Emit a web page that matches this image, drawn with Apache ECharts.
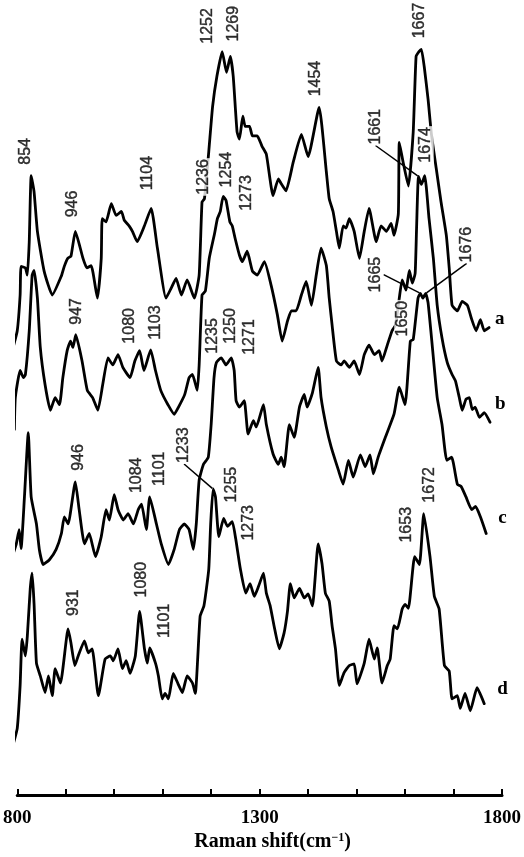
<!DOCTYPE html>
<html>
<head>
<meta charset="utf-8">
<title>Raman spectra a–d</title>
<style>
  html, body { margin: 0; padding: 0; background: #fff; }
  #chart { width: 524px; height: 857px; }
</style>
<script src="https://cdn.jsdelivr.net/npm/echarts@6/dist/echarts.min.js"></script>
</head>
<body>
<div id="chart"></div>
<script>
// Scale bar: labelled ticks and tick spacing (cm-1)
const shiftTicks = [800, 1300, 1800];
const tickStep = 100;

// Spectra: [Raman shift (cm-1), intensity (a.u., traces stacked)]
const spectrumA = [[815, 56.0], [825, 58.4], [831, 62.9], [833, 66.5], [842, 66.3], [846, 65.4], [850, 69.6], [854, 77.9], [860, 75.9], [867, 70.9], [881, 65.9], [898, 62.9], [917, 65.3], [923, 66.5], [930, 67.5], [937, 67.8], [946, 70.9], [962, 67.5], [970, 66.3], [979, 66.6], [992, 62.5], [1000, 67.5], [1002, 72.5], [1010, 72.1], [1021, 74.4], [1031, 72.9], [1042, 73.4], [1048, 72.3], [1058, 71.6], [1065, 70.9], [1075, 69.6], [1090, 71.6], [1104, 73.8], [1117, 68.8], [1135, 62.5], [1146, 63.8], [1156, 65.0], [1167, 62.9], [1179, 64.8], [1194, 62.5], [1204, 65.4], [1210, 74.6], [1215, 75.0], [1224, 80.9], [1232, 86.6], [1241, 90.4], [1252, 93.5], [1261, 90.9], [1269, 92.9], [1275, 90.4], [1283, 83.4], [1288, 82.5], [1295, 85.4], [1300, 84.1], [1309, 84.1], [1315, 82.9], [1325, 82.9], [1335, 81.6], [1344, 80.6], [1358, 75.4], [1369, 77.5], [1375, 76.9], [1385, 76.0], [1400, 79.6], [1417, 83.1], [1431, 80.3], [1454, 86.5], [1469, 78.4], [1475, 75.0], [1483, 73.4], [1490, 70.9], [1496, 68.8], [1504, 71.6], [1510, 71.3], [1517, 72.5], [1527, 70.9], [1538, 67.5], [1548, 70.9], [1558, 73.8], [1573, 69.6], [1583, 71.6], [1594, 70.9], [1604, 71.9], [1610, 70.4], [1619, 73.1], [1621, 82.1], [1629, 79.6], [1640, 76.6], [1650, 83.4], [1656, 92.9], [1662, 93.5], [1667, 93.8], [1673, 91.6], [1681, 87.5], [1688, 83.1], [1698, 78.8], [1708, 74.6], [1719, 70.4], [1725, 66.3], [1731, 61.6], [1742, 60.9], [1752, 62.1], [1763, 61.6], [1771, 60.0], [1781, 58.4], [1790, 59.8], [1798, 58.4], [1808, 58.8]];

const spectrumB = [[819, 46.0], [821, 50.0], [831, 53.4], [838, 52.5], [842, 52.9], [850, 58.4], [856, 65.4], [860, 66.0], [867, 62.5], [873, 56.3], [883, 51.6], [894, 48.4], [904, 50.0], [913, 49.1], [920, 52.5], [929, 55.9], [936, 57.1], [941, 56.3], [947, 57.9], [960, 54.6], [971, 50.9], [982, 50.0], [993, 48.4], [1003, 51.6], [1014, 55.0], [1024, 54.1], [1035, 55.4], [1045, 53.8], [1060, 52.5], [1070, 54.6], [1080, 55.9], [1089, 53.4], [1103, 56.0], [1113, 53.4], [1124, 50.9], [1139, 49.1], [1152, 47.9], [1161, 48.8], [1174, 50.4], [1183, 52.5], [1190, 52.9], [1200, 50.9], [1204, 54.1], [1210, 62.9], [1217, 63.4], [1225, 67.5], [1236, 70.6], [1242, 72.5], [1248, 73.4], [1254, 75.3], [1260, 74.8], [1268, 72.1], [1273, 71.6], [1279, 70.0], [1288, 67.9], [1294, 67.1], [1304, 68.4], [1315, 65.9], [1325, 65.4], [1340, 67.1], [1354, 64.1], [1367, 60.4], [1377, 57.1], [1388, 59.6], [1396, 60.9], [1406, 60.9], [1417, 62.9], [1427, 64.6], [1438, 61.6], [1448, 65.4], [1458, 68.8], [1469, 66.6], [1475, 62.5], [1481, 59.1], [1490, 54.6], [1500, 54.1], [1506, 54.6], [1517, 53.8], [1527, 54.6], [1538, 52.9], [1548, 55.4], [1558, 56.6], [1569, 55.4], [1579, 55.9], [1585, 54.6], [1596, 56.6], [1606, 58.4], [1613, 59.1], [1621, 62.5], [1627, 64.8], [1635, 63.5], [1642, 66.0], [1648, 64.4], [1654, 65.6], [1657, 71.3], [1661, 77.8], [1667, 76.8], [1674, 77.9], [1683, 72.5], [1692, 67.5], [1700, 61.6], [1710, 57.5], [1721, 54.4], [1731, 52.9], [1738, 52.1], [1746, 50.0], [1752, 48.4], [1760, 49.8], [1767, 50.0], [1773, 48.5], [1779, 48.8], [1788, 47.5], [1798, 48.1], [1810, 46.9]];

const spectrumC = [[810, 27.5], [815, 30.0], [823, 31.6], [829, 33.4], [833, 31.0], [840, 37.5], [848, 45.6], [854, 37.5], [865, 34.1], [871, 30.9], [879, 29.0], [892, 29.6], [906, 30.9], [917, 32.9], [923, 35.0], [931, 34.1], [946, 39.4], [954, 35.9], [965, 31.6], [975, 32.9], [988, 30.0], [1000, 32.5], [1010, 35.9], [1017, 34.6], [1027, 37.8], [1035, 35.9], [1046, 34.6], [1056, 35.4], [1067, 34.1], [1077, 35.9], [1084, 36.6], [1094, 33.4], [1101, 37.5], [1115, 34.1], [1125, 31.6], [1140, 29.0], [1152, 30.9], [1163, 33.4], [1173, 34.1], [1183, 33.4], [1192, 30.9], [1198, 34.1], [1204, 39.6], [1213, 41.6], [1223, 42.5], [1229, 46.6], [1235, 52.5], [1240, 54.4], [1250, 55.0], [1260, 54.1], [1271, 55.0], [1277, 53.4], [1281, 49.6], [1288, 48.8], [1298, 49.6], [1306, 45.4], [1317, 47.1], [1323, 46.3], [1338, 49.1], [1344, 46.6], [1358, 42.9], [1369, 41.6], [1375, 42.5], [1381, 41.3], [1392, 46.6], [1402, 45.0], [1413, 48.8], [1423, 50.4], [1429, 48.8], [1440, 50.6], [1452, 53.8], [1458, 50.0], [1469, 46.3], [1479, 43.8], [1494, 40.9], [1504, 39.1], [1515, 42.1], [1525, 40.0], [1540, 42.8], [1550, 41.3], [1560, 42.8], [1567, 40.4], [1577, 42.5], [1592, 45.0], [1610, 47.9], [1621, 51.3], [1633, 49.1], [1644, 57.1], [1650, 57.3], [1660, 62.5], [1665, 63.1], [1670, 62.5], [1676, 63.1], [1681, 61.9], [1690, 56.3], [1700, 50.0], [1710, 46.6], [1720, 42.1], [1730, 42.5], [1742, 39.1], [1750, 38.8], [1760, 37.5], [1772, 35.9], [1780, 36.3], [1790, 35.0], [1802, 32.9]];

const spectrumD = [[817, 6.5], [825, 8.4], [831, 13.8], [835, 19.6], [842, 17.5], [846, 20.0], [852, 25.9], [856, 27.9], [860, 24.1], [865, 16.6], [873, 15.0], [883, 12.9], [890, 15.0], [898, 12.5], [904, 15.9], [915, 14.1], [931, 20.9], [937, 19.1], [945, 16.3], [952, 17.5], [965, 19.4], [973, 17.9], [981, 18.4], [994, 12.5], [1008, 17.1], [1019, 17.5], [1025, 16.9], [1035, 18.4], [1044, 15.9], [1052, 16.9], [1060, 15.3], [1071, 17.5], [1080, 23.1], [1090, 18.4], [1096, 16.6], [1101, 18.5], [1113, 16.6], [1119, 15.0], [1127, 12.1], [1133, 12.8], [1140, 12.1], [1150, 15.3], [1160, 14.0], [1169, 12.9], [1179, 15.0], [1190, 14.1], [1196, 12.8], [1206, 22.5], [1214, 23.8], [1224, 28.4], [1228, 34.1], [1233, 38.5], [1238, 37.5], [1245, 32.5], [1255, 34.8], [1263, 33.8], [1273, 34.4], [1280, 32.3], [1290, 28.4], [1301, 25.4], [1310, 26.6], [1319, 25.0], [1328, 26.3], [1338, 27.9], [1344, 25.4], [1352, 23.8], [1360, 21.3], [1371, 18.4], [1381, 20.4], [1388, 23.1], [1394, 26.6], [1402, 24.8], [1413, 26.0], [1423, 24.8], [1431, 25.3], [1440, 23.8], [1452, 31.6], [1460, 29.1], [1467, 25.4], [1475, 24.4], [1481, 21.3], [1488, 18.4], [1496, 13.8], [1506, 15.4], [1517, 16.3], [1527, 16.5], [1533, 14.0], [1548, 16.6], [1558, 19.6], [1569, 17.1], [1575, 18.5], [1585, 14.1], [1596, 16.3], [1602, 17.1], [1610, 21.3], [1617, 20.9], [1627, 23.4], [1633, 24.0], [1640, 23.5], [1653, 30.0], [1663, 29.0], [1672, 35.4], [1685, 30.0], [1694, 25.0], [1704, 23.4], [1715, 16.3], [1725, 15.6], [1731, 12.1], [1742, 12.5], [1748, 10.9], [1758, 12.8], [1769, 10.6], [1783, 13.5], [1798, 11.5]];

// Annotated band positions (cm-1) for each trace
const peaksA = [854, 946, 1104, 1252, 1269, 1454, 1667];
const peaksB = [947, 1080, 1103, 1236, 1254, 1273, 1661, 1674];
const peaksC = [946, 1084, 1101, 1235, 1250, 1271, 1650, 1665, 1676];
const peaksD = [931, 1080, 1101, 1233, 1255, 1273, 1653, 1672];

// Bands whose labels sit away from the peak and need a guide line
const leaderBands = { a: [], b: [1661], c: [1665, 1676], d: [1233] };

// Screen-space label nudges in pixels [right, down], so crowded labels do not collide
const labelNudge = {
  a: { 854: [-6, -1], 946: [-3, -4], 1104: [-4, -8], 1252: [-15, 2], 1269: [3, -5], 1454: [-4, -1], 1667: [-2, -1] },
  b: { 947: [1, 0], 1080: [-10, 3], 1103: [5, 0], 1236: [-11, -29], 1254: [3, 1], 1273: [14, -5], 1661: [-43, -22], 1674: [1, -3] },
  c: { 946: [3, -1], 1084: [-5, -1], 1101: [10, -1], 1235: [-1, -14], 1250: [9, -4], 1271: [18, 7], 1650: [-11, 7], 1665: [-45, 9], 1676: [41, -21] },
  d: { 931: [5, -3], 1080: [2, -4], 1101: [15, 0], 1233: [-29, -16], 1255: [8, -6], 1273: [16, 29], 1653: [-8, -4], 1672: [6, -1] }
};

const traces = [
  { name: 'a', data: spectrumA, peaks: peaksA, endOffset: [-2, -8] },
  { name: 'b', data: spectrumB, peaks: peaksB, endOffset: [-3, -18] },
  { name: 'c', data: spectrumC, peaks: peaksC, endOffset: [4, -15] },
  { name: 'd', data: spectrumD, peaks: peaksD, endOffset: [5, -15] }
];

function intensityAt(data, shift) {
  const p = data.find(d => d[0] === shift);
  return p ? p[1] : null;
}

const series = [];
traces.forEach(t => {
  series.push({
    type: 'line',
    name: t.name,
    xAxisIndex: 1,
    yAxisIndex: 0,
    data: t.data,
    showSymbol: false,
    clip: false,
    smooth: 0.15,
    lineStyle: { color: '#000', width: 2.8, join: 'round', cap: 'round' },
    endLabel: {
      show: true,
      formatter: t.name,
      offset: t.endOffset,
      color: '#000',
      fontFamily: 'Liberation Serif',
      fontSize: 19,
      fontWeight: 'bold'
    },
    z: 2
  });
  series.push({
    type: 'scatter',
    xAxisIndex: 1,
    yAxisIndex: 0,
    silent: true,
    symbolSize: 2,
    itemStyle: { color: 'rgba(0,0,0,0)' },
    z: 5,
    data: t.peaks.map(v => ({
      value: [v, intensityAt(t.data, v)],
      name: String(v),
      labelLine: { show: leaderBands[t.name].includes(v) }
    })),
    label: {
      show: true,
      formatter: '{b}',
      position: 'top',
      distance: 8,
      rotate: 90,
      align: 'left',
      verticalAlign: 'middle',
      fontFamily: 'Liberation Sans',
      fontSize: 16,
      color: '#000',
      textBorderColor: '#000',
      textBorderWidth: 0.4,
      backgroundColor: '#fff',
      padding: [0, 1]
    },
    labelLine: { show: false, length2: 0, lineStyle: { color: '#000', width: 1.5 } },
    // the label offset is applied in the label's rotated frame
    labelLayout: p => {
      const n = labelNudge[t.name][t.peaks[p.dataIndex]] || [0, 0];
      return { dx: -n[1], dy: n[0] };
    }
  });
});

const chart = echarts.init(document.getElementById('chart'), null, { renderer: 'canvas' });
chart.setOption({
  animation: false,
  backgroundColor: '#fff',
  grid: { left: 17, right: 22, top: 0, height: 800, containLabel: false },
  xAxis: [
    {
      // printed scale bar
      type: 'value',
      position: 'bottom',
      min: shiftTicks[0],
      max: shiftTicks[shiftTicks.length - 1],
      interval: tickStep,
      axisLine: { show: true, onZero: false, lineStyle: { color: '#000', width: 3 } },
      axisTick: { show: true, inside: true, length: 6, lineStyle: { color: '#000', width: 2 } },
      splitLine: { show: false },
      axisLabel: {
        margin: 13,
        formatter: v => (shiftTicks.includes(v) ? String(v) : ''),
        fontFamily: 'Liberation Serif', fontSize: 19, fontWeight: 'bold', color: '#000'
      },
      name: '{t|Raman shift(cm}{s|−1}{t|)}',
      nameLocation: 'middle',
      nameGap: 36,
      nameTextStyle: {
        padding: [0, 0, 0, 26],
        rich: {
          t: { fontFamily: 'Liberation Serif', fontSize: 20, fontWeight: 'bold', color: '#000' },
          s: { fontFamily: 'Liberation Serif', fontSize: 12, fontWeight: 'bold', color: '#000', verticalAlign: 'top' }
        }
      }
    },
    {
      // wavenumber axis the spectra are plotted on
      type: 'value',
      min: 825,
      max: 1835,
      show: false
    }
  ],
  yAxis: { type: 'value', min: 0, max: 100, show: false },
  series: series
});
</script>
</body>
</html>
